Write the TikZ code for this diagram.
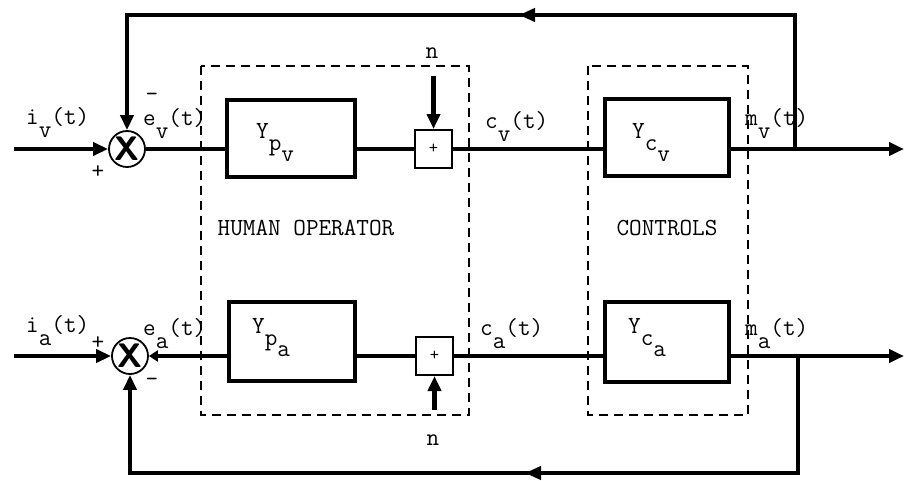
\documentclass[tikz,border=0pt]{standalone}
\usepackage{fontspec}
\usetikzlibrary{arrows.meta,decorations.markings}
\begin{document}
\begin{tikzpicture}[x=1pt,y=-1pt,
  font=\fontsize{24.5}{26}\selectfont\ttfamily,
  sig/.style={line width=4.5pt, line join=miter},
  tip/.style={-{Triangle[length=15pt,width=13pt]}},
  midtip/.style={postaction={decorate},
    decoration={markings, mark=at position #1 with {\arrow{Triangle[length=16pt,width=13pt]}}}},
  blk/.style={draw, line width=4.5pt, inner sep=0pt},
  plusbox/.style={draw, line width=2pt, minimum width=37pt, minimum height=38pt, inner sep=0pt, font=\fontsize{18}{20}\selectfont\ttfamily},
  sumj/.style={draw, circle, line width=1.8pt, minimum size=36pt, inner sep=0pt, font=\fontsize{34}{36}\selectfont\sffamily\bfseries},
  dbox/.style={draw, line width=2.6pt, dash pattern=on 9pt off 6pt},
  lbl/.style={anchor=base west, inner sep=0pt}
]
\useasboundingbox (0,0) rectangle (904,480);

% dashed groups
\draw[dbox] (201,66) rectangle (469,415);
\draw[dbox] (588,66) rectangle (748,415);

% summing junctions
\node[sumj] (sumv) at (127,149) {X};
\node[sumj] (suma) at (130,356) {X};

% blocks
\node[blk, minimum width=128pt, minimum height=77pt] (Ypv) at (291,138.5) {};
\node[blk, minimum width=124pt, minimum height=77pt] (Ycv) at (667,137.5) {};
\node[blk, minimum width=126pt, minimum height=79pt] (Ypa) at (292,341.5) {};
\node[blk, minimum width=124pt, minimum height=80pt] (Yca) at (667,342) {};

% block labels
\node[lbl] (Ypvt) at (256,138) {Y\raisebox{-12pt}{p\raisebox{-11pt}{v}}};
\node[lbl] (Ycvt) at (632,138) {Y\raisebox{-12pt}{c\raisebox{-11pt}{v}}};
\node[lbl] (Ypat) at (252,333) {Y\raisebox{-12pt}{p\raisebox{-11pt}{a}}};
\node[lbl] (Ycat) at (628,333) {Y\raisebox{-12pt}{c\raisebox{-11pt}{a}}};

% plus boxes
\node[plusbox] (plusv) at (433.5,149) {+};
\node[plusbox] (plusa) at (434.5,356) {+};

% coordinates
\coordinate (inv) at (14,149);
\coordinate (ina) at (14,356);
\coordinate (outv) at (904,149);
\coordinate (outa) at (904,356);
\coordinate (fbv) at (795,149);
\coordinate (fbv1) at (795,15);
\coordinate (fbv2) at (127,15);
\coordinate (fba) at (798,356);
\coordinate (fba1) at (798,473);
\coordinate (fba2) at (130,473);
\coordinate (nv) at (433.5,76);
\coordinate (na) at (434.5,410);

% top channel
\draw[sig,tip] (inv) -- (sumv.west);
\draw[sig] (sumv.east) -- (Ypv.west |- sumv.east);
\draw[sig] (Ypv.east |- sumv.east) -- (plusv.west);
\draw[sig] (plusv.east) -- (Ycv.west |- plusv.east);
\draw[sig,tip] (Ycv.east |- plusv.east) -- (outv);
\draw[sig,tip,midtip=410pt] (fbv) -- (fbv1) -- (fbv2) -- (sumv.north);
\draw[sig,tip] (nv) -- (plusv.north);

% bottom channel
\draw[sig,tip] (ina) -- (suma.west);
\draw[sig,{Triangle[length=9pt,width=11pt]}-] (suma.east) -- (Ypa.west |- suma.east);
\draw[sig] (Ypa.east |- suma.east) -- (plusa.west);
\draw[sig] (plusa.east) -- (Yca.west |- plusa.east);
\draw[sig,tip] (Yca.east |- plusa.east) -- (outa);
\draw[sig,tip,midtip=390pt] (fba) -- (fba1) -- (fba2) -- (suma.south);
\draw[sig,tip] (na) -- (plusa.south);

% signal labels
\node[lbl] (liv) at (26,124) {i\raisebox{-13pt}{v}(t)};
\node[lbl] (lev) at (143,125) {e\raisebox{-13pt}{v}(t)};
\node (lmv) at (152,97) {-};
\node (lpv) at (98,172) {+};
\node[lbl] (lcv) at (485,128) {c\raisebox{-13pt}{v}(t)};
\node[lbl] (lmvv) at (745,125) {m\raisebox{-13pt}{v}(t)};
\node (lnv) at (432,53) {n};

\node[lbl] (lia) at (26,332) {i\raisebox{-13pt}{a}(t)};
\node[lbl] (lea) at (143,335) {e\raisebox{-13pt}{a}(t)};
\node (lpa) at (98,343) {+};
\node (lma) at (152,382) {-};
\node[lbl] (lca) at (480,335) {c\raisebox{-13pt}{a}(t)};
\node[lbl] (lmaa) at (745,335) {m\raisebox{-13pt}{a}(t)};
\node (lna) at (433,440) {n};

% group labels
\node (lho) at (306,228) {HUMAN OPERATOR};
\node (lco) at (667,228) {CONTROLS};
\end{tikzpicture}
\end{document}
